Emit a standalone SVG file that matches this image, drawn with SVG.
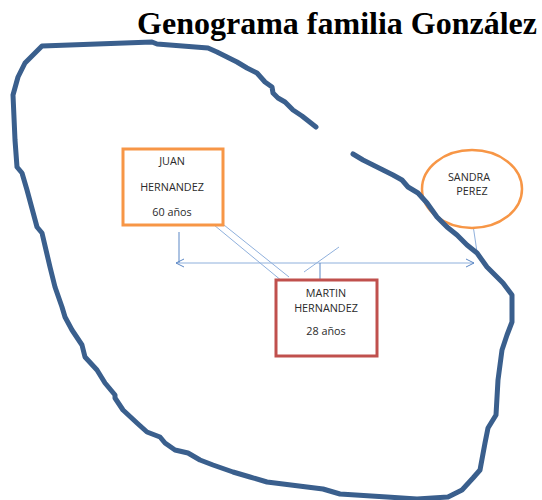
<svg xmlns="http://www.w3.org/2000/svg" width="542" height="500" viewBox="0 0 542 500">
<defs>
<style>
.title{font-family:"Liberation Serif","Times New Roman",serif;font-weight:bold;font-size:32px;fill:#000}
.lbl{font-family:"Open Sans","Liberation Sans",sans-serif;font-size:10.8px;fill:#2a2a2a;text-anchor:middle}
.boundary{fill:none;stroke:#3a5f8d;stroke-width:5;stroke-linejoin:round;stroke-linecap:round}
.conn{fill:none;stroke:#5b87c5;stroke-width:1}
.conn2{fill:none;stroke:#8fb0dc;stroke-width:1}
</style>
<marker id="openArrow" viewBox="0 0 10 10" refX="9" refY="5" markerWidth="10" markerHeight="10" markerUnits="userSpaceOnUse" orient="auto-start-reverse">
<path d="M1,1 L9,5 L1,9" fill="none" stroke="#5b87c5" stroke-width="1"/>
</marker>
</defs>
<rect width="542" height="500" fill="#fff"/>
<text class="title" x="537" y="34" text-anchor="end">Genograma familia González</text>
<g id="connectors">
<line class="conn" x1="179" y1="232" x2="179" y2="263"/>
<line class="conn2" x1="176" y1="263" x2="474" y2="263" marker-start="url(#openArrow)" marker-end="url(#openArrow)"/>
<line class="conn2" x1="214" y1="217" x2="289" y2="277"/>
<line class="conn2" x1="214" y1="225" x2="288" y2="286"/>
<line class="conn2" x1="339" y1="247" x2="304" y2="272"/>
<line class="conn" x1="320" y1="263" x2="320" y2="280"/>
<line class="conn2" x1="473" y1="225" x2="477" y2="252"/>
</g>
<g id="juan">
<rect x="123" y="149" width="100" height="76" fill="#fff" stroke="#f79646" stroke-width="3"/>
<text class="lbl" x="172" y="165">JUAN</text>
<text class="lbl" x="172" y="191">HERNANDEZ</text>
<text class="lbl" x="172" y="216">60 años</text>
</g>
<g id="martin">
<rect x="276" y="280" width="101" height="76" fill="#fff" stroke="#c0504d" stroke-width="3"/>
<text class="lbl" x="326" y="297">MARTIN</text>
<text class="lbl" x="326" y="312">HERNANDEZ</text>
<text class="lbl" x="326" y="335">28 años</text>
</g>
<g id="sandra">
<ellipse cx="472" cy="189" rx="50" ry="39" fill="#fff" stroke="#f79646" stroke-width="2.5"/>
<text class="lbl" x="469" y="181">SANDRA</text>
<text class="lbl" x="472" y="195">PEREZ</text>
</g>
<g id="boundary">
<path class="boundary" d="M316,127 L302,116 L293,110 L285,102 L278,98 L273,93 L272,87 L265,82 L257,73 L247,68 L237,62 L227,57 L217,52 L208,48 L157,44 L152,42 L42,46 L25,63 L18,77 L13,95 L15,140 L17,167 L22,173 L27,190 L37,227 L42,233 L50,267 L55,287 L62,307 L65,317 L72,330 L82,345 L85,357 L97,370 L105,383 L115,395 L115,398 L123,410 L137,423 L147,432 L160,437 L165,443 L175,450 L188,453 L200,460 L213,465 L233,472 L250,477 L267,482 L283,484 L307,487 L323,489 L340,494 L387,497 L417,499 L448,497 L462,490 L473,478 L480,470 L485,443 L488,428 L496,415 L498,380 L502,350 L507,335 L512,322 L512,295 L503,283 L493,273 L487,267 L477,253 L467,245 L457,235 L447,227 L437,217 L427,203 L418,193 L408,187 L402,180 L393,175 L383,170 L373,165 L363,160 L353,154"/>
</g>
</svg>
